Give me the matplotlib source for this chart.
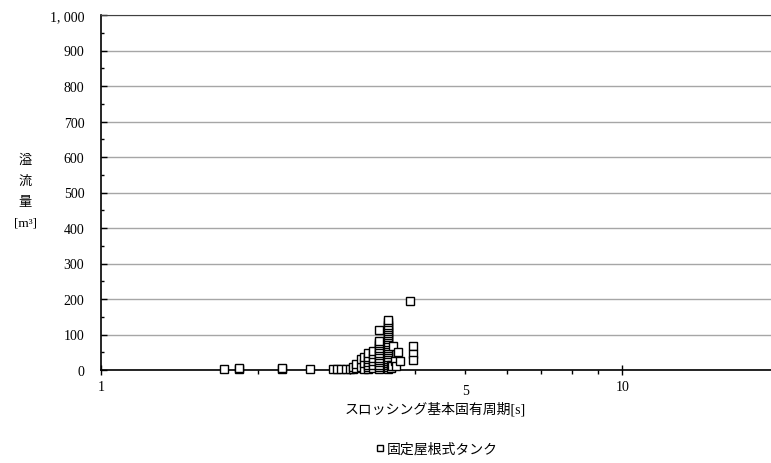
import matplotlib
matplotlib.use("Agg")
from matplotlib import pyplot as plt

plt.rcParams['font.family'] = ['Liberation Serif', 'Noto Sans CJK JP']

# fixed roof tanks: sloshing period [s] / overflow volume [m3]
period = [1.72, 1.84, 1.84, 2.22, 2.22, 2.52,
          2.79, 2.84, 2.89, 2.95, 3.00, 3.05, 3.05,
          3.08, 3.08, 3.15, 3.15, 3.19, 3.19, 3.19,
          3.26, 3.26, 3.26, 3.26, 3.26, 3.26, 3.26,
          3.33, 3.33, 3.33, 3.33, 3.33, 3.33,
          3.41,
          3.42, 3.42, 3.42, 3.42, 3.42, 3.42, 3.42, 3.42, 3.42, 3.42, 3.42, 3.42, 3.42,
          3.56, 3.56, 3.56, 3.56, 3.56, 3.56, 3.56, 3.56, 3.56, 3.56, 3.56, 3.56,
          3.56, 3.56, 3.56, 3.56, 3.56, 3.56, 3.56, 3.56, 3.56, 3.56, 3.56, 3.56,
          3.60, 3.60, 3.62,
          3.64, 3.66, 3.68, 3.72, 3.74,
          3.91, 3.96, 3.96, 3.96]
volume = [2, 3, 5, 3, 5, 2,
          2, 2, 2, 2, 2, 2, 8,
          5, 17, 8, 31, 4, 20, 37,
          2, 8, 15, 22, 30, 38, 48,
          5, 15, 25, 35, 45, 54,
          113,
          3, 9, 15, 22, 28, 35, 42, 48, 55, 62, 70, 76, 82,
          2, 8, 14, 20, 26, 32, 38, 44, 50, 56, 62, 68,
          74, 80, 86, 92, 98, 104, 110, 116, 122, 128, 134, 140,
          5, 15, 10,
          68, 25, 12, 51, 25,
          195, 68, 45, 28]

yticks = [0, 100, 200, 300, 400, 500, 600, 700, 800, 900, 1000]
ylabels = ['0', '100', '200', '300', '400', '500', '600', '700', '800', '900', '1, 000']
ylabel_lines = ['溢', '流', '量', '[m³]']

fig = plt.figure(figsize=(7.71, 4.64), dpi=100)
ax = fig.add_axes([101 / 771, 1 - 371 / 464, 670 / 771, 355 / 464])

ax.plot(period, volume, linestyle='none', marker='s', markersize=5.5,
        markerfacecolor='white', markeredgecolor='black', markeredgewidth=1.0,
        label='固定屋根式タンク', clip_on=False, zorder=3)

ax.set_xscale('log')
ax.set_xlim(1, 19.3)
ax.set_ylim(0, 1000)

ax.set_yticks(yticks, labels=ylabels)
ax.set_yticks([50, 150, 250, 350, 450, 550, 650, 750, 850, 950], minor=True)
ax.tick_params(axis='y', which='major', direction='in', length=4, width=1, labelsize=10, pad=12)
ax.tick_params(axis='y', which='minor', direction='in', length=2, width=1)

ax.set_xticks([1, 10], labels=['1', '10'])
ax.set_xticks([2, 3, 4, 5, 6, 7, 8, 9], labels=['', '', '', '5', '', '', '', ''], minor=True)
ax.tick_params(axis='x', which='major', direction='inout', length=7, width=1, labelsize=10, pad=4)
ax.tick_params(axis='x', which='minor', direction='out', length=3, width=1, labelsize=10, pad=7)

ax.grid(axis='y', which='major', color='#a6a6a6', linewidth=1)
ax.set_axisbelow(True)
ax.spines['right'].set_visible(False)
ax.spines['top'].set_color('#404040')
ax.spines['left'].set_linewidth(1.2)
ax.spines['bottom'].set_linewidth(1.2)

# vertical y label, one character per line
for i, s in enumerate(ylabel_lines):
    fig.text(25 / 771, 1 - (161 + 21 * i) / 464, s, ha='center', va='center', fontsize=9.5)
fig.text(435 / 771, 1 - 409 / 464, 'スロッシング基本固有周期[s]', ha='center', va='center', fontsize=10)

fig.legend(loc='center', bbox_to_anchor=(435 / 771, 1 - 450 / 464), frameon=False,
           handletextpad=0.0, handlelength=1.0, fontsize=10, markerscale=0.8)

plt.savefig('out.png', dpi=100)
